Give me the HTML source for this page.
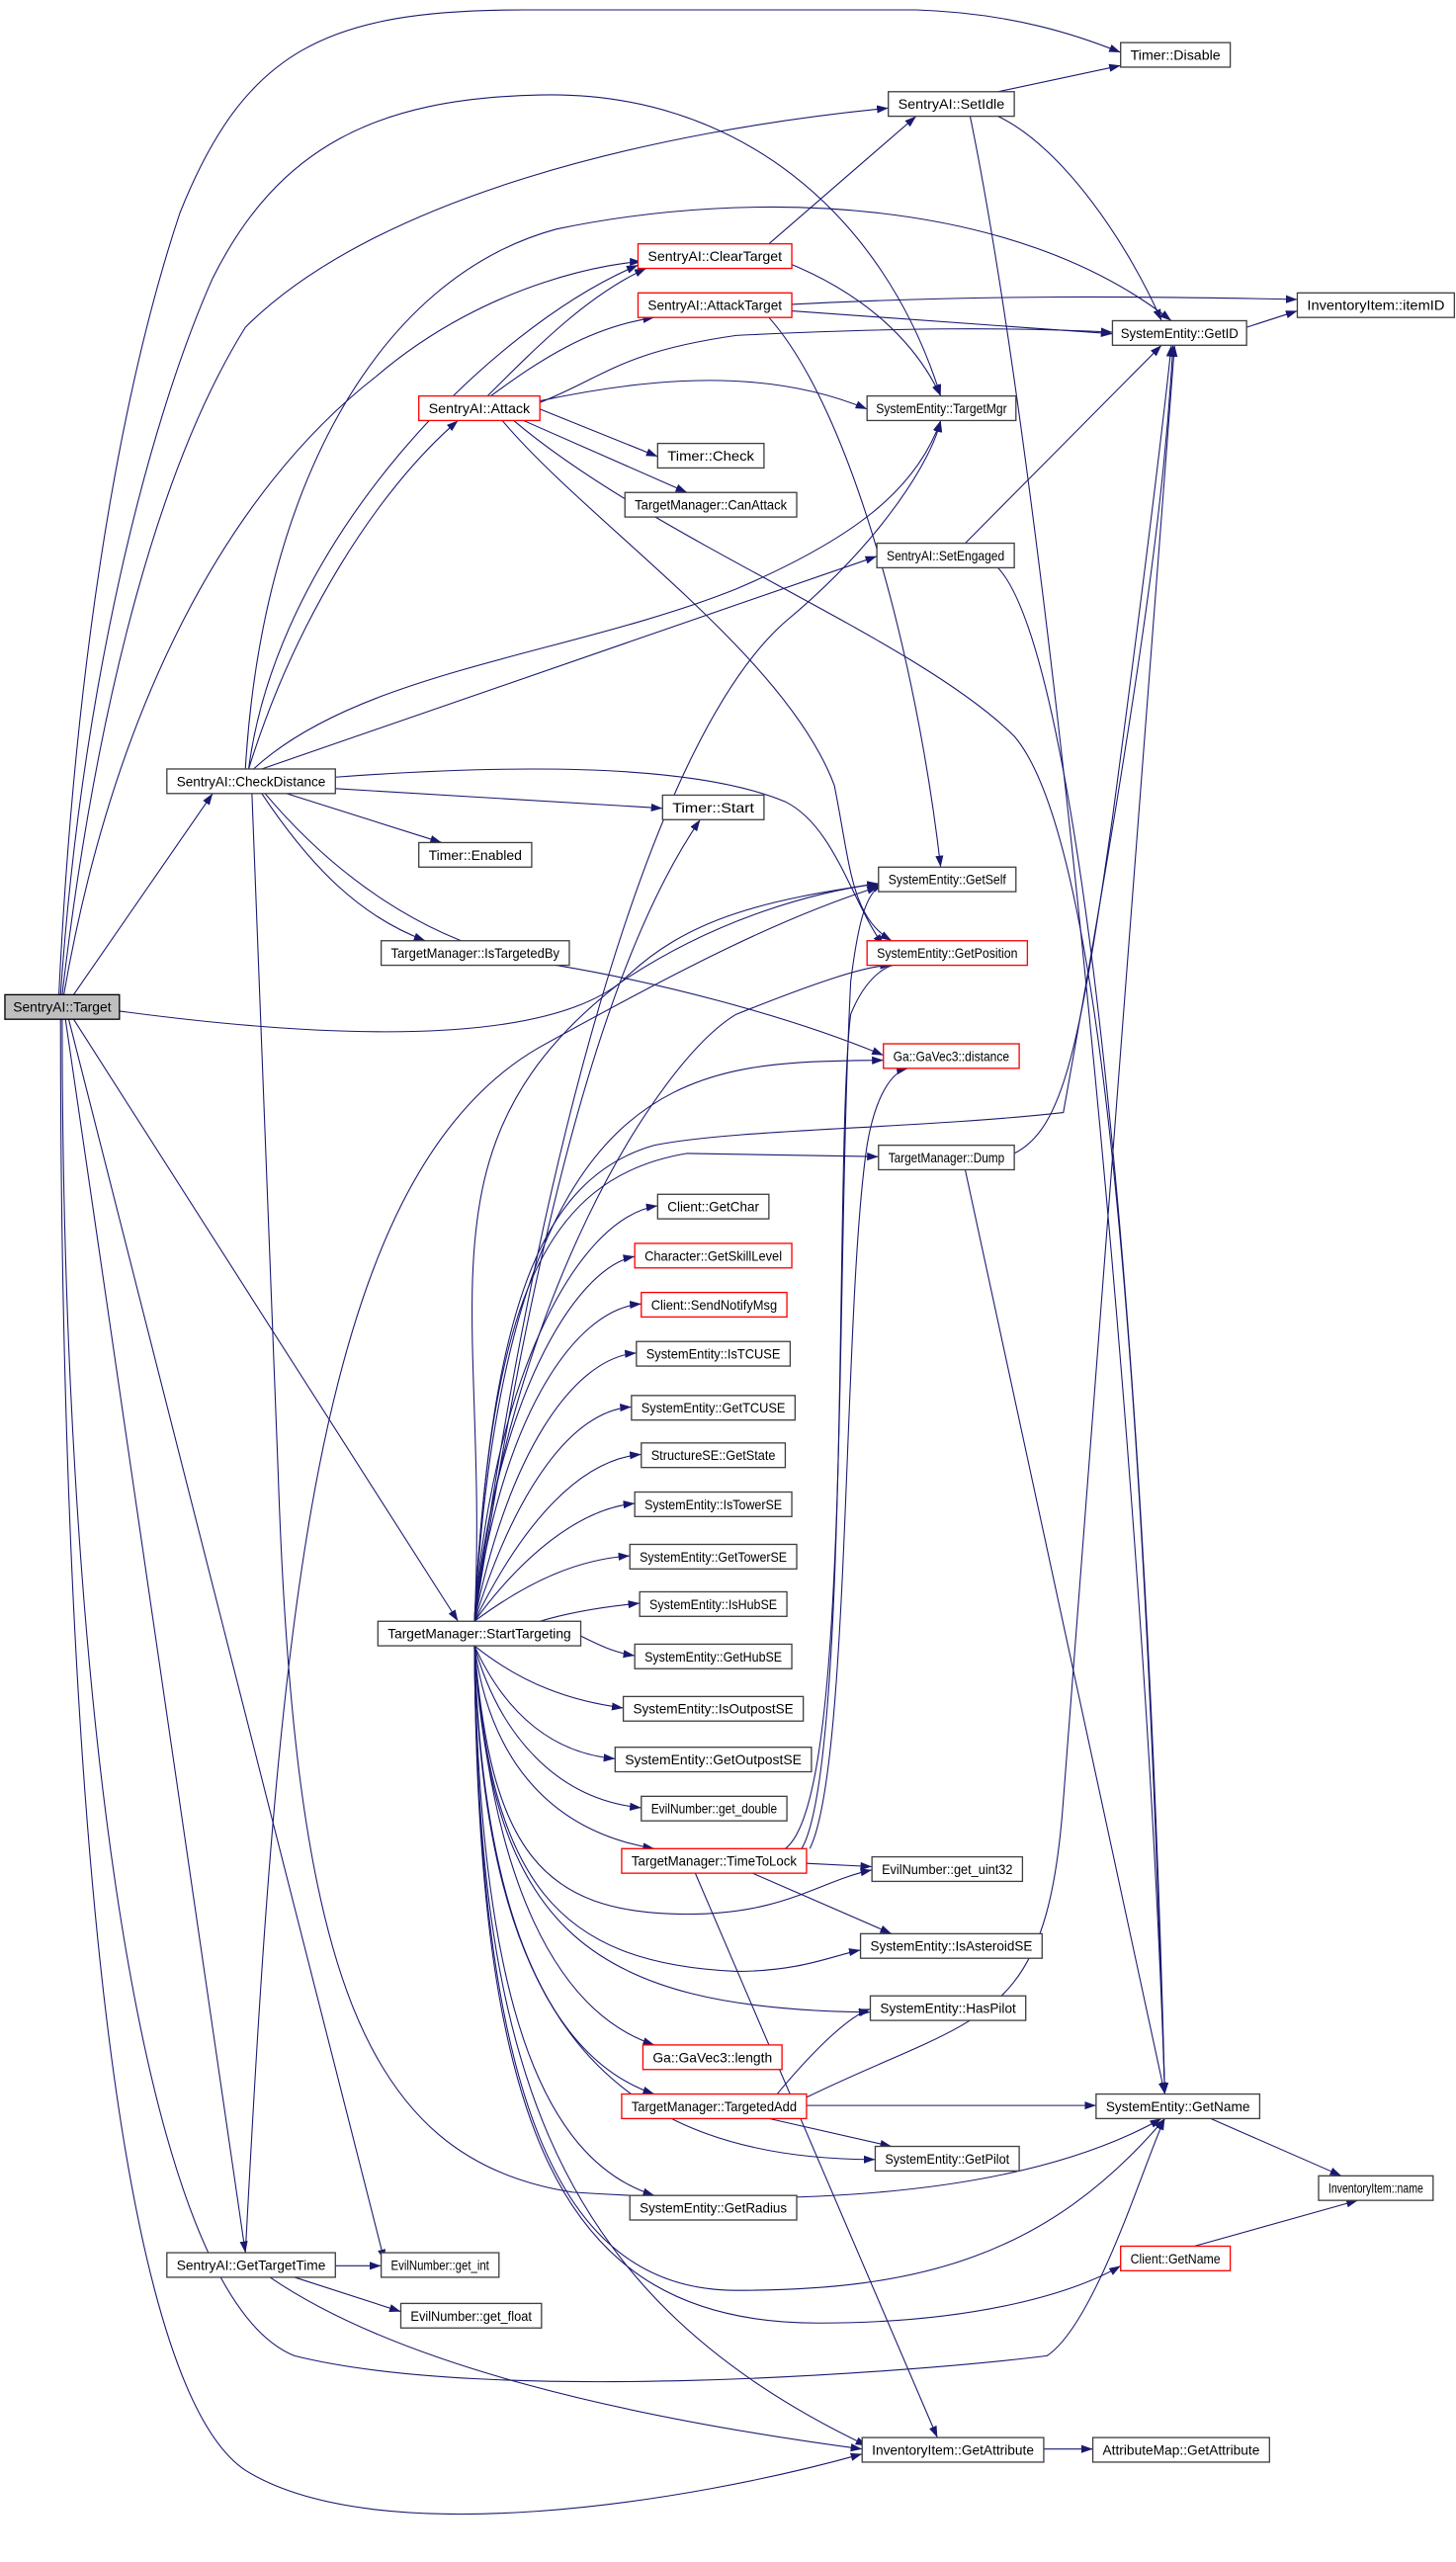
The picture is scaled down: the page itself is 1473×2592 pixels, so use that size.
<!DOCTYPE html>
<html><head><meta charset="utf-8"><style>
html,body{margin:0;padding:0;background:#fff;}
svg{display:block}
text{font-family:"Liberation Sans",sans-serif;font-size:8.4px;fill:#000}
.e{fill:none;stroke:#191970;stroke-width:0.65;marker-end:url(#a)}
.n{fill:#fff;stroke:#404040;stroke-width:0.8}
.r{fill:#fff;stroke:#ff0000;stroke-width:0.8}
.g{fill:#bfbfbf;stroke:#000;stroke-width:0.8}
</style></head><body>
<svg width="1473" height="2592" viewBox="0 0 890 1566" xmlns="http://www.w3.org/2000/svg">
<defs><marker id="a" viewBox="0 0 10 7" markerWidth="7" markerHeight="5" refX="10" refY="3.5" orient="auto" markerUnits="userSpaceOnUse"><path d="M0,0 L10,3.5 L0,7 z" fill="#191970"/></marker></defs>
<!-- edges -->
<path class="e" d="M36,608 C45,420 70,250 110,130 C150,30 200,6 320,6 L560,6 C620,8 660,22 685,32"/>
<path class="e" d="M37,608 C50,420 90,260 130,170 C170,90 230,60 330,58 C450,55 540,130 575,242"/>
<path class="e" d="M38,608 C60,420 100,280 150,200 C230,120 400,80 543,66"/>
<path class="e" d="M39,608 C70,430 140,300 230,230 C300,170 380,160 392,160"/>
<path class="e" d="M45,608 L130,485"/>
<path class="e" d="M73,618 C200,635 330,640 380,600 C420,560 470,550 537,540"/>
<path class="e" d="M45,623 L280,991"/>
<path class="e" d="M40,623 L150,1377"/>
<path class="e" d="M42,623 L235,1382"/>
<path class="e" d="M38,623 C38,1000 80,1400 180,1440 C300,1470 560,1450 640,1440 C670,1420 700,1320 712,1295"/>
<path class="e" d="M37,623 C37,1000 60,1450 150,1510 C230,1560 420,1530 527,1500"/>
<path class="e" d="M150,470 C160,300 230,170 340,140 C460,115 620,120 716,196"/>
<path class="e" d="M152,470 C170,330 300,200 390,162"/>
<path class="e" d="M152,470 C180,380 230,300 280,257"/>
<path class="e" d="M155,470 C220,410 350,400 450,360 C520,330 560,300 575,257"/>
<path class="e" d="M160,470 L536,340"/>
<path class="e" d="M205,482 L405,494"/>
<path class="e" d="M175,485 L270,515"/>
<path class="e" d="M160,485 C190,530 220,560 260,575"/>
<path class="e" d="M205,475 C300,468 420,465 480,490 C510,505 520,550 540,578"/>
<path class="e" d="M162,485 C200,530 260,580 340,590 C400,600 480,620 540,645"/>
<path class="e" d="M154,485 L170,900 C180,1200 220,1320 350,1340 C500,1350 630,1340 710,1295"/>
<path class="e" d="M298,242 C330,210 360,180 395,164"/>
<path class="e" d="M300,242 C330,220 360,200 400,194"/>
<path class="e" d="M330,245 C400,230 470,225 530,250"/>
<path class="e" d="M330,246 C370,230 380,215 450,205 C550,200 620,200 680,203"/>
<path class="e" d="M330,250 L402,279"/>
<path class="e" d="M320,257 L420,301"/>
<path class="e" d="M307,257 C360,320 480,400 510,480 C520,530 520,560 545,575"/>
<path class="e" d="M314,257 C400,330 560,390 620,450 C680,520 700,900 712,1280"/>
<path class="e" d="M470,149 L560,71"/>
<path class="e" d="M480,160 C530,180 560,210 575,242"/>
<path class="e" d="M484,186 C600,180 700,181 793,183"/>
<path class="e" d="M484,190 L680,204"/>
<path class="e" d="M470,194 C520,250 560,400 575,530"/>
<path class="e" d="M610,56 L685,40"/>
<path class="e" d="M610,71 C650,90 690,150 710,196"/>
<path class="e" d="M593,71 C640,300 700,900 712,1280"/>
<path class="e" d="M590,332 L710,211"/>
<path class="e" d="M610,347 C660,400 700,800 712,1280"/>
<path class="e" d="M762,200 L793,190"/>
<path class="e" d="M620,705 C650,690 660,640 680,500 C700,350 712,250 716,211"/>
<path class="e" d="M590,715 L712,1280"/>
<!-- StartTargeting -->
<path class="e" d="M290,991 C320,800 360,600 428,501"/>
<path class="e" d="M290,991 C330,700 400,450 480,380 C540,330 570,280 575,257"/>
<path class="e" d="M290,991 C300,800 250,700 380,600 C440,560 500,545 537,540"/>
<path class="e" d="M290,991 C310,800 400,650 450,620 C500,600 530,590 545,590"/>
<path class="e" d="M290,991 C300,800 330,720 420,705 L537,707"/>
<path class="e" d="M290,991 C300,800 330,720 400,700 C450,690 560,690 650,680 C700,400 712,300 717,211"/>
<path class="e" d="M290,991 C310,640 430,650 540,648"/>
<path class="e" d="M290,991 C300,850 350,745 402,737"/>
<path class="e" d="M290,991 C302,860 350,775 388,768"/>
<path class="e" d="M290,991 C305,870 350,800 392,797"/>
<path class="e" d="M290,991 C310,890 350,830 389,827"/>
<path class="e" d="M290,991 C315,910 350,862 386,860"/>
<path class="e" d="M290,991 C320,930 355,892 392,889"/>
<path class="e" d="M290,991 C320,950 355,922 388,919"/>
<path class="e" d="M290,991 C325,965 355,953 385,951"/>
<path class="e" d="M330,991 C350,985 370,982 391,980"/>
<path class="e" d="M355,1000 C365,1005 375,1010 388,1012"/>
<path class="e" d="M290,1006 C320,1030 350,1040 381,1044"/>
<path class="e" d="M290,1006 C310,1050 340,1072 376,1075"/>
<path class="e" d="M290,1006 C305,1060 340,1100 392,1105"/>
<path class="e" d="M290,1006 C300,1080 340,1120 400,1130"/>
<path class="e" d="M290,1006 C300,1130 330,1170 420,1170 C480,1170 500,1150 533,1143"/>
<path class="e" d="M290,1006 C300,1150 340,1200 450,1205 C490,1205 510,1195 526,1192"/>
<path class="e" d="M290,1006 C300,1180 360,1228 532,1230"/>
<path class="e" d="M290,1006 C300,1150 340,1230 400,1250"/>
<path class="e" d="M290,1006 C295,1180 340,1260 400,1280"/>
<path class="e" d="M290,1006 C295,1220 360,1320 535,1320"/>
<path class="e" d="M290,1006 C293,1220 330,1320 400,1342"/>
<path class="e" d="M290,1006 C292,1280 340,1400 450,1400 C560,1400 640,1380 712,1295"/>
<path class="e" d="M290,1006 C292,1300 340,1420 500,1420 C600,1420 660,1400 685,1385"/>
<path class="e" d="M290,1006 C292,1250 330,1400 530,1495"/>
<!-- TimeToLock -->
<path class="e" d="M480,1130 C520,1100 510,800 520,600 C525,560 530,545 540,540"/>
<path class="e" d="M490,1130 C520,1080 510,700 520,620 C530,595 545,588 550,590"/>
<path class="e" d="M495,1130 C520,1080 515,800 530,700 C535,670 545,655 555,653"/>
<path class="e" d="M493,1139 L533,1141"/>
<path class="e" d="M460,1145 L545,1182"/>
<path class="e" d="M425,1145 L573,1490"/>
<!-- TargetedAdd -->
<path class="e" d="M475,1280 C500,1250 520,1232 532,1228"/>
<path class="e" d="M470,1295 L545,1312"/>
<path class="e" d="M493,1287 L670,1287"/>
<path class="e" d="M493,1282 C600,1230 640,1240 650,1100 C680,700 710,300 718,211"/>
<path class="e" d="M740,1295 L820,1330"/>
<path class="e" d="M730,1373 L830,1345"/>
<!-- GetTargetTime -->
<path class="e" d="M205,1385 L233,1385"/>
<path class="e" d="M180,1392 L245,1413"/>
<path class="e" d="M165,1392 C250,1450 400,1480 527,1497"/>
<path class="e" d="M150,1377 C170,1000 190,720 330,640 C420,590 480,560 537,542"/>
<path class="e" d="M638,1497 L668,1497"/>
<!-- nodes -->
<g>
<rect class="g" x="3" y="608" width="70" height="15"/><text x="38" y="618.5" text-anchor="middle" textLength="60" lengthAdjust="spacingAndGlyphs">SentryAI::Target</text>
<rect class="n" x="685" y="26" width="67" height="15"/><text x="718.5" y="36.5" text-anchor="middle" textLength="55" lengthAdjust="spacingAndGlyphs">Timer::Disable</text>
<rect class="n" x="543" y="56" width="77" height="15"/><text x="581.5" y="66.5" text-anchor="middle" textLength="65" lengthAdjust="spacingAndGlyphs">SentryAI::SetIdle</text>
<rect class="r" x="390" y="149" width="94" height="15"/><text x="437" y="159.5" text-anchor="middle" textLength="82" lengthAdjust="spacingAndGlyphs">SentryAI::ClearTarget</text>
<rect class="r" x="390" y="179" width="94" height="15"/><text x="437" y="189.5" text-anchor="middle" textLength="82" lengthAdjust="spacingAndGlyphs">SentryAI::AttackTarget</text>
<rect class="n" x="680" y="196" width="82" height="15"/><text x="721" y="206.5" text-anchor="middle" textLength="72" lengthAdjust="spacingAndGlyphs">SystemEntity::GetID</text>
<rect class="n" x="793" y="179" width="96" height="15"/><text x="841" y="189.5" text-anchor="middle" textLength="84" lengthAdjust="spacingAndGlyphs">InventoryItem::itemID</text>
<rect class="r" x="256" y="242" width="74" height="15"/><text x="293" y="252.5" text-anchor="middle" textLength="62" lengthAdjust="spacingAndGlyphs">SentryAI::Attack</text>
<rect class="n" x="530" y="242" width="91" height="15"/><text x="575.5" y="252.5" text-anchor="middle" textLength="80" lengthAdjust="spacingAndGlyphs">SystemEntity::TargetMgr</text>
<rect class="n" x="402" y="271" width="65" height="15"/><text x="434.5" y="281.5" text-anchor="middle" textLength="53" lengthAdjust="spacingAndGlyphs">Timer::Check</text>
<rect class="n" x="382" y="301" width="105" height="15"/><text x="434.5" y="311.5" text-anchor="middle" textLength="93" lengthAdjust="spacingAndGlyphs">TargetManager::CanAttack</text>
<rect class="n" x="536" y="332" width="84" height="15"/><text x="578" y="342.5" text-anchor="middle" textLength="72" lengthAdjust="spacingAndGlyphs">SentryAI::SetEngaged</text>
<rect class="n" x="102" y="470" width="103" height="15"/><text x="153.5" y="480.5" text-anchor="middle" textLength="91" lengthAdjust="spacingAndGlyphs">SentryAI::CheckDistance</text>
<rect class="n" x="405" y="486" width="62" height="15"/><text x="436" y="496.5" text-anchor="middle" textLength="50" lengthAdjust="spacingAndGlyphs">Timer::Start</text>
<rect class="n" x="256" y="515" width="69" height="15"/><text x="290.5" y="525.5" text-anchor="middle" textLength="57" lengthAdjust="spacingAndGlyphs">Timer::Enabled</text>
<rect class="n" x="233" y="575" width="115" height="15"/><text x="290.5" y="585.5" text-anchor="middle" textLength="103" lengthAdjust="spacingAndGlyphs">TargetManager::IsTargetedBy</text>
<rect class="n" x="537" y="530" width="84" height="15"/><text x="579" y="540.5" text-anchor="middle" textLength="72" lengthAdjust="spacingAndGlyphs">SystemEntity::GetSelf</text>
<rect class="r" x="530" y="575" width="98" height="15"/><text x="579" y="585.5" text-anchor="middle" textLength="86" lengthAdjust="spacingAndGlyphs">SystemEntity::GetPosition</text>
<rect class="r" x="540" y="638" width="83" height="15"/><text x="581.5" y="648.5" text-anchor="middle" textLength="71" lengthAdjust="spacingAndGlyphs">Ga::GaVec3::distance</text>
<rect class="n" x="537" y="700" width="83" height="15"/><text x="578.5" y="710.5" text-anchor="middle" textLength="71" lengthAdjust="spacingAndGlyphs">TargetManager::Dump</text>
<rect class="n" x="402" y="730" width="68" height="15"/><text x="436" y="740.5" text-anchor="middle" textLength="56" lengthAdjust="spacingAndGlyphs">Client::GetChar</text>
<rect class="r" x="388" y="760" width="96" height="15"/><text x="436" y="770.5" text-anchor="middle" textLength="84" lengthAdjust="spacingAndGlyphs">Character::GetSkillLevel</text>
<rect class="r" x="392" y="790" width="89" height="15"/><text x="436.5" y="800.5" text-anchor="middle" textLength="77" lengthAdjust="spacingAndGlyphs">Client::SendNotifyMsg</text>
<rect class="n" x="389" y="820" width="94" height="15"/><text x="436" y="830.5" text-anchor="middle" textLength="82" lengthAdjust="spacingAndGlyphs">SystemEntity::IsTCUSE</text>
<rect class="n" x="386" y="853" width="100" height="15"/><text x="436" y="863.5" text-anchor="middle" textLength="88" lengthAdjust="spacingAndGlyphs">SystemEntity::GetTCUSE</text>
<rect class="n" x="392" y="882" width="88" height="15"/><text x="436" y="892.5" text-anchor="middle" textLength="76" lengthAdjust="spacingAndGlyphs">StructureSE::GetState</text>
<rect class="n" x="388" y="912" width="96" height="15"/><text x="436" y="922.5" text-anchor="middle" textLength="84" lengthAdjust="spacingAndGlyphs">SystemEntity::IsTowerSE</text>
<rect class="n" x="385" y="944" width="102" height="15"/><text x="436" y="954.5" text-anchor="middle" textLength="90" lengthAdjust="spacingAndGlyphs">SystemEntity::GetTowerSE</text>
<rect class="n" x="231" y="991" width="124" height="15"/><text x="293" y="1001.5" text-anchor="middle" textLength="112" lengthAdjust="spacingAndGlyphs">TargetManager::StartTargeting</text>
<rect class="n" x="391" y="973" width="90" height="15"/><text x="436" y="983.5" text-anchor="middle" textLength="78" lengthAdjust="spacingAndGlyphs">SystemEntity::IsHubSE</text>
<rect class="n" x="388" y="1005" width="96" height="15"/><text x="436" y="1015.5" text-anchor="middle" textLength="84" lengthAdjust="spacingAndGlyphs">SystemEntity::GetHubSE</text>
<rect class="n" x="381" y="1037" width="110" height="15"/><text x="436" y="1047.5" text-anchor="middle" textLength="98" lengthAdjust="spacingAndGlyphs">SystemEntity::IsOutpostSE</text>
<rect class="n" x="376" y="1068" width="120" height="15"/><text x="436" y="1078.5" text-anchor="middle" textLength="108" lengthAdjust="spacingAndGlyphs">SystemEntity::GetOutpostSE</text>
<rect class="n" x="392" y="1098" width="89" height="15"/><text x="436.5" y="1108.5" text-anchor="middle" textLength="77" lengthAdjust="spacingAndGlyphs">EvilNumber::get_double</text>
<rect class="r" x="380" y="1130" width="113" height="15"/><text x="436.5" y="1140.5" text-anchor="middle" textLength="101" lengthAdjust="spacingAndGlyphs">TargetManager::TimeToLock</text>
<rect class="n" x="533" y="1135" width="92" height="15"/><text x="579" y="1145.5" text-anchor="middle" textLength="80" lengthAdjust="spacingAndGlyphs">EvilNumber::get_uint32</text>
<rect class="n" x="526" y="1182" width="111" height="15"/><text x="581.5" y="1192.5" text-anchor="middle" textLength="99" lengthAdjust="spacingAndGlyphs">SystemEntity::IsAsteroidSE</text>
<rect class="n" x="532" y="1220" width="95" height="15"/><text x="579.5" y="1230.5" text-anchor="middle" textLength="83" lengthAdjust="spacingAndGlyphs">SystemEntity::HasPilot</text>
<rect class="r" x="393" y="1250" width="85" height="15"/><text x="435.5" y="1260.5" text-anchor="middle" textLength="73" lengthAdjust="spacingAndGlyphs">Ga::GaVec3::length</text>
<rect class="r" x="380" y="1280" width="113" height="15"/><text x="436.5" y="1290.5" text-anchor="middle" textLength="101" lengthAdjust="spacingAndGlyphs">TargetManager::TargetedAdd</text>
<rect class="n" x="670" y="1280" width="100" height="15"/><text x="720" y="1290.5" text-anchor="middle" textLength="88" lengthAdjust="spacingAndGlyphs">SystemEntity::GetName</text>
<rect class="n" x="535" y="1312" width="88" height="15"/><text x="579" y="1322.5" text-anchor="middle" textLength="76" lengthAdjust="spacingAndGlyphs">SystemEntity::GetPilot</text>
<rect class="n" x="806" y="1330" width="70" height="15"/><text x="841" y="1340.5" text-anchor="middle" textLength="58" lengthAdjust="spacingAndGlyphs">InventoryItem::name</text>
<rect class="n" x="385" y="1342" width="102" height="15"/><text x="436" y="1352.5" text-anchor="middle" textLength="90" lengthAdjust="spacingAndGlyphs">SystemEntity::GetRadius</text>
<rect class="r" x="685" y="1373" width="67" height="15"/><text x="718.5" y="1383.5" text-anchor="middle" textLength="55" lengthAdjust="spacingAndGlyphs">Client::GetName</text>
<rect class="n" x="102" y="1377" width="103" height="15"/><text x="153.5" y="1387.5" text-anchor="middle" textLength="91" lengthAdjust="spacingAndGlyphs">SentryAI::GetTargetTime</text>
<rect class="n" x="233" y="1377" width="72" height="15"/><text x="269" y="1387.5" text-anchor="middle" textLength="60" lengthAdjust="spacingAndGlyphs">EvilNumber::get_int</text>
<rect class="n" x="245" y="1408" width="86" height="15"/><text x="288" y="1418.5" text-anchor="middle" textLength="74" lengthAdjust="spacingAndGlyphs">EvilNumber::get_float</text>
<rect class="n" x="527" y="1490" width="111" height="15"/><text x="582.5" y="1500.5" text-anchor="middle" textLength="99" lengthAdjust="spacingAndGlyphs">InventoryItem::GetAttribute</text>
<rect class="n" x="668" y="1490" width="108" height="15"/><text x="722" y="1500.5" text-anchor="middle" textLength="96" lengthAdjust="spacingAndGlyphs">AttributeMap::GetAttribute</text>
</g>
</svg>
</body></html>
